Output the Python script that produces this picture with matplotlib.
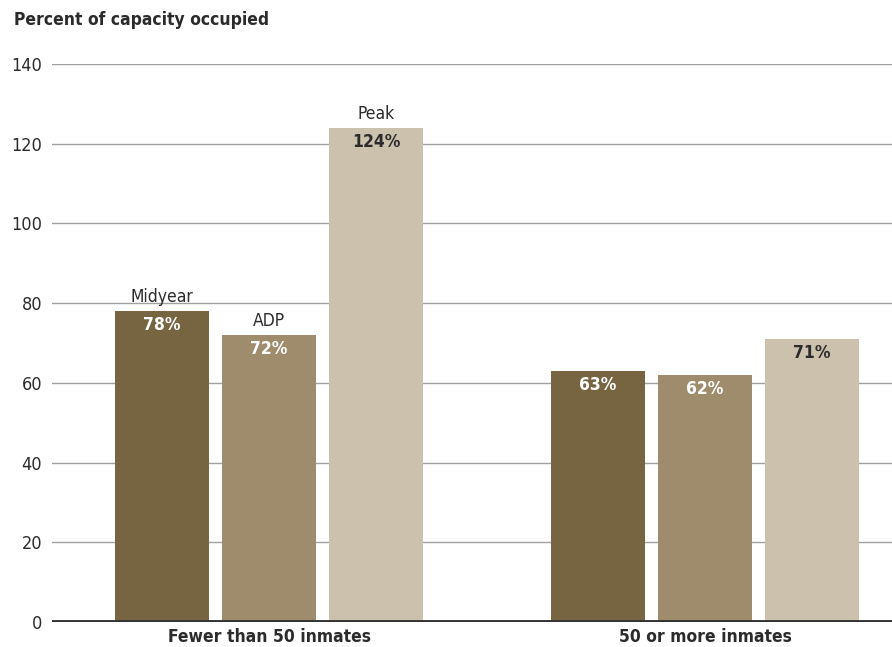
import numpy as np
import matplotlib.pyplot as plt

# dati
gruppi = ['Fewer than 50 inmates', '50 or more inmates']
serie = ['Midyear', 'ADP', 'Peak']
valori = {
    'Midyear': [78, 63],
    'ADP': [72, 62],
    'Peak': [124, 71],
}
colori = ['#776542', '#9e8c6d', '#cbc1ac']
colori_testo = ['white', 'white', '#2b2b2b']

plt.rcParams['font.family'] = ['DejaVu Sans']
plt.rcParams['font.stretch'] = 'condensed'

fig = plt.figure(figsize=(8.92, 6.47), dpi=100)
ax = fig.add_axes([0.0583, 0.0386, 0.9417, 0.8625])

x = np.arange(len(gruppi))
passo = 0.2454
larghezza = 0.2156

for i, s in enumerate(serie):
    pos = x + (i - 1) * passo
    ax.bar(pos, valori[s], width=larghezza, color=colori[i], zorder=3)
    for j, v in enumerate(valori[s]):
        ax.text(pos[j], v - 3.5, f'{v}%', ha='center', va='center',
                color=colori_testo[i], fontsize=12.5, fontweight='bold', zorder=4)
    # nome della serie solo sopra il primo gruppo
    ax.text(pos[0], valori[s][0] + 1.2, s, ha='center', va='bottom',
            color='#2b2b2b', fontsize=12.5, zorder=4)

ax.set_xlim(-0.498, 1.429)
ax.set_ylim(0, 140)
ax.set_yticks(range(0, 141, 20))
ax.yaxis.grid(True, color='#a0a0a0', linewidth=1, zorder=0)
ax.axhline(0, color='#333333', linewidth=2.8, zorder=5)
for lato in ['top', 'right', 'left', 'bottom']:
    ax.spines[lato].set_visible(False)
ax.tick_params(axis='y', length=0, labelsize=13, pad=7, labelcolor='#2b2b2b')
ax.tick_params(axis='x', length=0, labelsize=12.5, pad=4)
ax.set_xticks(x)
ax.set_xticklabels(gruppi, fontweight='bold', color='#2b2b2b')

fig.text(0.016, 0.969, 'Percent of capacity occupied', fontsize=12.5,
         fontweight='bold', color='#2b2b2b', ha='left', va='center')

fig.savefig('out.png', dpi=100)
